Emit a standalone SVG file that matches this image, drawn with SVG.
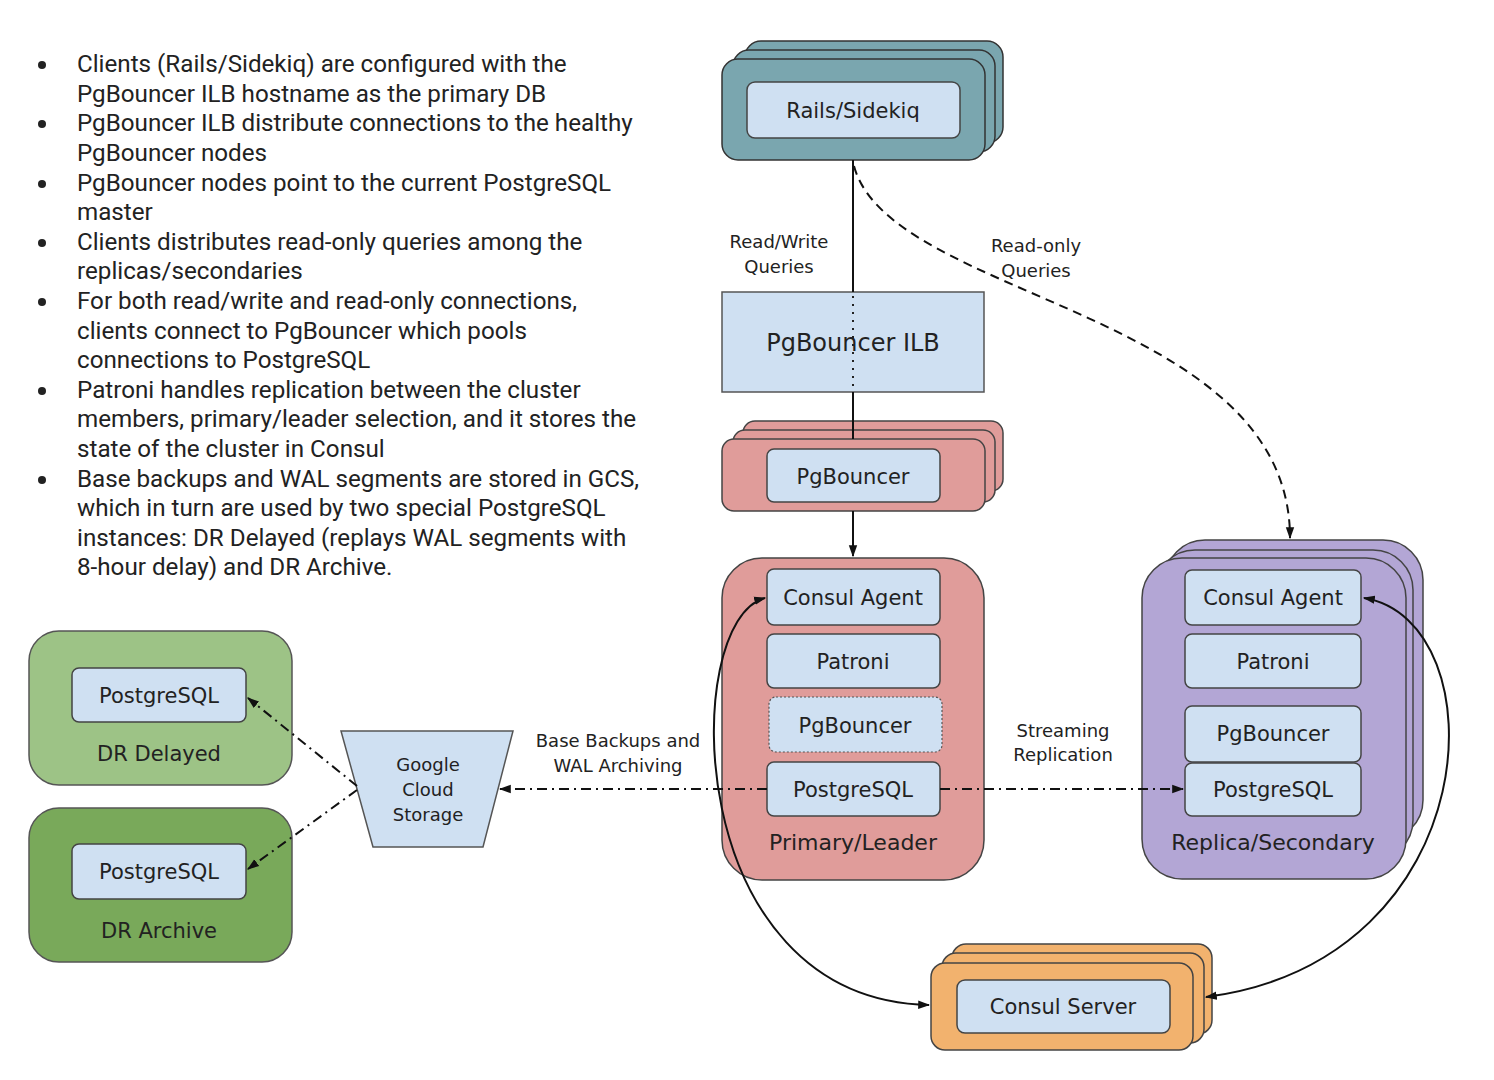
<svg xmlns="http://www.w3.org/2000/svg" width="1494" height="1080" viewBox="0 0 1494 1080">
<style>
.bt{font-family:Roboto,"Liberation Sans",sans-serif;font-size:24.2px;fill:#222}
.lb{font-family:"DejaVu Sans","Liberation Sans",sans-serif;font-size:21px;fill:#222;text-anchor:middle}
.sm{font-family:"DejaVu Sans","Liberation Sans",sans-serif;font-size:18px;fill:#222;text-anchor:middle}
.in{fill:#cfe0f2;stroke:#444;stroke-width:1.5}
.teal{fill:#7aa6af;stroke:#333;stroke-width:1.5}
.pink{fill:#e09c9a;stroke:#444;stroke-width:1.5}
.purp{fill:#b3a6d5;stroke:#444;stroke-width:1.5}
.orng{fill:#f2b26e;stroke:#444;stroke-width:1.5}
.c{fill:none;stroke:#111;stroke-width:2}
.dd{fill:none;stroke:#111;stroke-width:2;stroke-dasharray:10 5 2 5}
</style>
<defs>
<marker id="ah2" viewBox="0 0 10 10" refX="9" refY="5" markerWidth="12" markerHeight="12" orient="auto-start-reverse" markerUnits="userSpaceOnUse">
<path d="M0,1.5 L10,5 L0,8.5 z" fill="#111"/>
</marker>
</defs>

<g id="notes">
<g fill="#222"><circle cx="42" cy="65" r="4"/><circle cx="42" cy="124" r="4"/><circle cx="42" cy="184" r="4"/><circle cx="42" cy="243" r="4"/><circle cx="42" cy="302" r="4"/><circle cx="42" cy="391" r="4"/><circle cx="42" cy="480" r="4"/></g>
<text class="bt" x="77" y="72">Clients (Rails/Sidekiq) are configured with the</text>
<text class="bt" x="77" y="102">PgBouncer ILB hostname as the primary DB</text>
<text class="bt" x="77" y="131">PgBouncer ILB distribute connections to the healthy</text>
<text class="bt" x="77" y="161">PgBouncer nodes</text>
<text class="bt" x="77" y="191">PgBouncer nodes point to the current PostgreSQL</text>
<text class="bt" x="77" y="220">master</text>
<text class="bt" x="77" y="250">Clients distributes read-only queries among the</text>
<text class="bt" x="77" y="279">replicas/secondaries</text>
<text class="bt" x="77" y="309">For both read/write and read-only connections,</text>
<text class="bt" x="77" y="339">clients connect to PgBouncer which pools</text>
<text class="bt" x="77" y="368">connections to PostgreSQL</text>
<text class="bt" x="77" y="398">Patroni handles replication between the cluster</text>
<text class="bt" x="77" y="427">members, primary/leader selection, and it stores the</text>
<text class="bt" x="77" y="457">state of the cluster in Consul</text>
<text class="bt" x="77" y="487">Base backups and WAL segments are stored in GCS,</text>
<text class="bt" x="77" y="516">which in turn are used by two special PostgreSQL</text>
<text class="bt" x="77" y="546">instances: DR Delayed (replays WAL segments with</text>
<text class="bt" x="77" y="575">8-hour delay) and DR Archive.</text>
</g>

<g id="rails">
<rect class="teal" x="745" y="41" width="258" height="102" rx="16"/>
<rect class="teal" x="733" y="50" width="262" height="102" rx="16"/>
<rect class="teal" x="722" y="59" width="263" height="101" rx="16"/>
<rect class="in" x="747" y="82" width="213" height="56" rx="8"/>
<text class="lb" x="853" y="118">Rails/Sidekiq</text>
</g>

<g id="ilb">
<rect x="722" y="292" width="262" height="100" fill="#cfe0f2" stroke="#555" stroke-width="1.5"/>
<text class="lb" x="853" y="351" style="font-size:24px">PgBouncer ILB</text>
</g>

<g id="pgbouncer">
<rect class="pink" x="743" y="421" width="260" height="70" rx="12"/>
<rect class="pink" x="733" y="430" width="262" height="72" rx="12"/>
<rect class="pink" x="722" y="439" width="263" height="72" rx="12"/>
<rect class="in" x="767" y="449" width="173" height="53" rx="7"/>
<text class="lb" x="853" y="484">PgBouncer</text>
</g>

<g id="primary">
<rect class="pink" x="722" y="558" width="262" height="322" rx="40"/>
<rect class="in" x="767" y="569" width="173" height="56" rx="7"/>
<text class="lb" x="853" y="605">Consul Agent</text>
<rect class="in" x="767" y="634" width="173" height="54" rx="7"/>
<text class="lb" x="853" y="669">Patroni</text>
<rect x="769" y="697" width="173" height="55" rx="7" fill="#cfe0f2" stroke="#555" stroke-width="1.2" stroke-dasharray="2 2"/>
<text class="lb" x="855" y="733">PgBouncer</text>
<rect class="in" x="767" y="762" width="173" height="54" rx="7"/>
<text class="lb" x="853" y="797">PostgreSQL</text>
<text class="lb" x="853" y="850" style="font-size:22px">Primary/Leader</text>
</g>

<g id="replica">
<rect class="purp" x="1165" y="540" width="258" height="300" rx="40"/>
<rect class="purp" x="1155" y="550" width="258" height="310" rx="40"/>
<rect class="purp" x="1142" y="558" width="264" height="321" rx="40"/>
<rect class="in" x="1185" y="570" width="176" height="55" rx="7"/>
<text class="lb" x="1273" y="605">Consul Agent</text>
<rect class="in" x="1185" y="634" width="176" height="54" rx="7"/>
<text class="lb" x="1273" y="669">Patroni</text>
<rect class="in" x="1185" y="706" width="176" height="56" rx="7"/>
<text class="lb" x="1273" y="741">PgBouncer</text>
<rect class="in" x="1185" y="763" width="176" height="53" rx="7"/>
<text class="lb" x="1273" y="797">PostgreSQL</text>
<text class="lb" x="1273" y="850" style="font-size:22px">Replica/Secondary</text>
</g>

<g id="gcs">
<polygon points="341,731 513,731 483,847 373,847" fill="#cfe0f2" stroke="#555" stroke-width="1.5"/>
<text class="sm" x="428" y="771">Google</text>
<text class="sm" x="428" y="796">Cloud</text>
<text class="sm" x="428" y="821">Storage</text>
</g>

<g id="dr-delayed">
<rect x="29" y="631" width="263" height="154" rx="30" fill="#9dc386" stroke="#555" stroke-width="1.5"/>
<rect class="in" x="72" y="668" width="174" height="54" rx="7"/>
<text class="lb" x="159" y="703">PostgreSQL</text>
<text class="lb" x="159" y="761">DR Delayed</text>
</g>

<g id="dr-archive">
<rect x="29" y="808" width="263" height="154" rx="30" fill="#79a95a" stroke="#555" stroke-width="1.5"/>
<rect class="in" x="72" y="844" width="174" height="55" rx="7"/>
<text class="lb" x="159" y="879">PostgreSQL</text>
<text class="lb" x="159" y="938">DR Archive</text>
</g>

<g id="consul-server">
<rect class="orng" x="952" y="944" width="260" height="90" rx="14"/>
<rect class="orng" x="942" y="953" width="262" height="90" rx="14"/>
<rect class="orng" x="931" y="963" width="262" height="87" rx="14"/>
<rect class="in" x="957" y="980" width="213" height="53" rx="8"/>
<text class="lb" x="1063" y="1014">Consul Server</text>
</g>

<g id="connectors">
<line class="c" x1="853" y1="160" x2="853" y2="292"/>
<line x1="853" y1="296" x2="853" y2="390" stroke="#222" stroke-width="2" stroke-dasharray="2 6"/>
<line class="c" x1="853" y1="392" x2="853" y2="439"/>
<line class="c" x1="853" y1="511" x2="853" y2="556" marker-end="url(#ah2)"/>
<path d="M854,166 C890,300 1290,310 1290,538" fill="none" stroke="#111" stroke-width="2" stroke-dasharray="9 6" marker-end="url(#ah2)"/>
<line class="dd" x1="767" y1="789" x2="500" y2="789" marker-end="url(#ah2)"/>
<line class="dd" x1="940" y1="789" x2="1183" y2="789" marker-end="url(#ah2)"/>
<line class="dd" x1="357" y1="786" x2="248" y2="698" marker-end="url(#ah2)"/>
<line class="dd" x1="357" y1="790" x2="248" y2="869" marker-end="url(#ah2)"/>
<path class="c" d="M765,598 C680,620 680,1000 929,1005" marker-start="url(#ah2)" marker-end="url(#ah2)"/>
<path class="c" d="M1364,598 C1500,620 1490,960 1206,997" marker-start="url(#ah2)" marker-end="url(#ah2)"/>
<text class="sm" x="779" y="248">Read/Write</text>
<text class="sm" x="779" y="273">Queries</text>
<text class="sm" x="1036" y="252">Read-only</text>
<text class="sm" x="1036" y="277">Queries</text>
<text class="sm" x="618" y="747">Base Backups and</text>
<text class="sm" x="618" y="772">WAL Archiving</text>
<text class="sm" x="1063" y="737">Streaming</text>
<text class="sm" x="1063" y="761">Replication</text>
</g>
</svg>
